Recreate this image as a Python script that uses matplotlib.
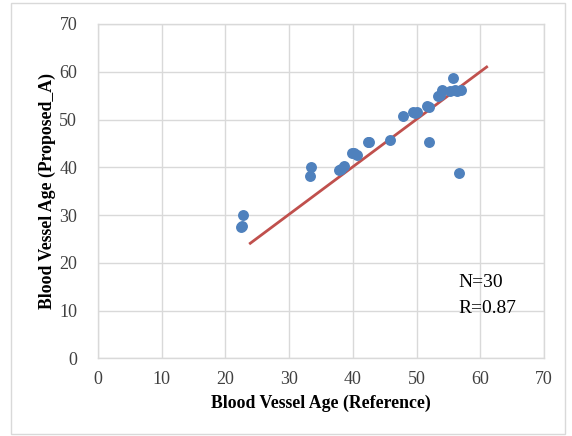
import numpy as np
import matplotlib; matplotlib.use("Agg")
import matplotlib.pyplot as plt
from matplotlib.patches import Rectangle

# datos (edad vascular referencia vs propuesta A)
ref_age = [22.4, 22.8, 33.2, 33.5, 37.9, 38.6, 39.9, 40.6, 42.3, 45.9,
           47.8, 49.5, 50.0, 51.6, 51.9, 53.3, 54.0, 55.7, 56.1, 56.9,
           56.6, 38.2, 40.2, 49.8, 53.6, 56.4, 22.6, 52.0, 42.5, 55.2]
prop_age = [27.6, 30.0, 38.2, 40.0, 39.5, 40.3, 43.1, 42.5, 45.3, 45.8,
            50.8, 51.5, 51.5, 52.8, 45.4, 54.9, 56.1, 58.8, 56.1, 56.1,
            38.8, 39.6, 42.9, 51.4, 55.2, 56.0, 27.8, 52.6, 45.2, 56.0]
trend_x = [23.9, 61.0]
trend_y = [24.1, 61.0]
ticks = [0, 10, 20, 30, 40, 50, 60, 70]

plt.rcParams['font.family'] = ['Liberation Serif', 'DejaVu Serif']
GRID = "#D9D9D9"

fig = plt.figure(figsize=(5.72, 4.36), dpi=100)
fig.patches.append(Rectangle((11/572, 2/436), 554/572, 431/436, transform=fig.transFigure,
                             fill=False, edgecolor=GRID, lw=1.0))
ax = fig.add_axes([98/572, 1 - 358.4/436, 446/572, 334.4/436])

ax.scatter(ref_age, prop_age, s=62, color="#4F81BD", zorder=3, linewidths=0)
ax.plot(trend_x, trend_y, color="#C0504D", lw=2.0, zorder=2)

ax.set_xlim(0, 70); ax.set_ylim(0, 70)
ax.set_xticks(ticks); ax.set_yticks(ticks)
ax.tick_params(length=0, labelsize=13, labelcolor="#404040")
ax.tick_params(axis="x", pad=9)
ax.tick_params(axis="y", pad=15)
ax.grid(True, color=GRID, lw=1.0, zorder=0)
ax.set_axisbelow(True)
for s in ax.spines.values():
    s.set_color(GRID); s.set_linewidth(1.0)

ax.set_xlabel("Blood Vessel Age (Reference)", fontsize=12.8, fontweight="bold", labelpad=5)
ax.set_ylabel("Blood Vessel Age (Proposed_A)", fontsize=12.8, fontweight="bold", labelpad=2)

ax.text(56.6, 15.8, "N=30", fontsize=14, va="center", ha="left")
ax.text(56.6, 10.4, "R=0.87", fontsize=14, va="center", ha="left")

fig.savefig("out.png", dpi=100)
